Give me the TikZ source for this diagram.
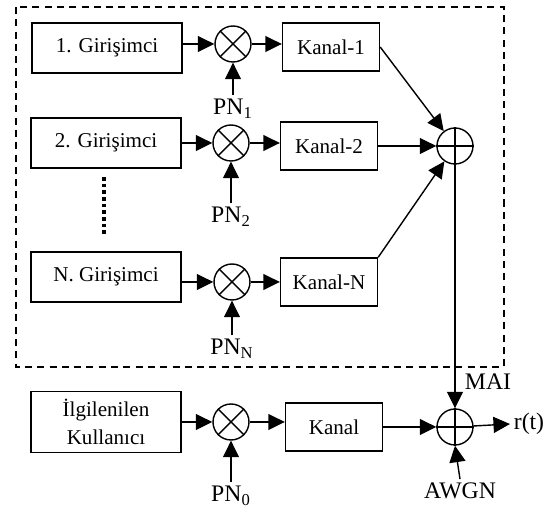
\documentclass[tikz,border=0pt]{standalone}
\usepackage{fontspec}
\setmainfont{Liberation Serif}
\usepackage{tikz}
\usetikzlibrary{arrows.meta}
\tikzstyle{kutu}=[draw,thick,minimum width=3cm,minimum height=1cm,inner sep=1pt]
\tikzstyle{kanal}=[draw,thick,minimum width=1.94cm,minimum height=0.96cm,inner sep=1pt]
\tikzstyle{daire}=[draw,thick,circle,minimum size=0.72cm,inner sep=0pt]
\tikzstyle{etiket}=[font=\fontsize{13.5}{16}\selectfont,inner sep=2pt]
\tikzstyle{ok}=[thick,-{Triangle[length=3.3mm,width=3.2mm]}]
\newcommand{\carpici}[2]{% carpici: daire ve carpi
\node[daire] (#1) at (#2) {};
\draw[thick] (#1.north east) -- (#1.south west) (#1.north west) -- (#1.south east);
}
\newcommand{\toplayici}[2]{% toplayici: daire ve arti
\node[daire] (#1) at (#2) {};
\draw[thick] (#1.north) -- (#1.south) (#1.west) -- (#1.east);
}

\begin{document}
\begin{tikzpicture}[x=0.02cm,y=-0.02cm,every node/.style={font=\fontsize{12}{16}\selectfont}]
\useasboundingbox (0,0) rectangle (556,509);
%
\draw[thick,dash pattern=on 4pt off 3pt] (16,7) rectangle (504,367);
%
\node[kutu] (g1) at (107,48) {1. Girişimci};
\carpici{m1}{233,44}
\node[kanal] (k1) at (331,47) {Kanal-1};
\node[etiket] (pn1) at (233,109) {PN\textsubscript{1}};
\draw[ok] (g1.east |- m1) -- (m1);
\draw[ok] (m1) -- (m1 -| k1.west);
\draw[ok] (pn1.north) -- (m1.south);
%
\node[kutu] (g2) at (106,143) {2. Girişimci};
\carpici{m2}{231,143}
\node[kanal] (k2) at (329,146) {Kanal-2};
\node[etiket] (pn2) at (231,217) {PN\textsubscript{2}};
\draw[ok] (g2.east |- m2) -- (m2);
\draw[ok] (m2) -- (m2 -| k2.west);
\draw[ok] (pn2.north) -- (m2.south);
%
\draw[line width=2pt,dash pattern=on 2pt off 1.8pt] (104,177) -- (104,237);
%
\node[kutu] (gN) at (106,277) {N. Girişimci};
\carpici{mN}{232,282}
\node[kanal] (kN) at (329,282) {Kanal-N};
\node[etiket] (pnN) at (232,349) {PN\textsubscript{N}};
\draw[ok] (gN.east |- mN) -- (mN);
\draw[ok] (mN) -- (mN -| kN.west);
\draw[ok] (pnN.north) -- (mN.south);
%
\toplayici{s1}{455,146}
\draw[ok] (k1.east) -- (s1);
\draw[ok] (k2.east) -- (s1);
\draw[ok] (kN.north east) -- (s1);
%
\node[kutu,minimum height=1.22cm,align=center] (u) at (106,422) {İlgilenilen\\Kullanıcı};
\carpici{m0}{231,422}
\node[kanal] (k0) at (334,427) {Kanal};
\node[etiket] (pn0) at (231,496) {PN\textsubscript{0}};
\draw[ok] (u.east |- m0) -- (m0);
\draw[ok] (m0) -- (m0 -| k0.west);
\draw[ok] (pn0.north) -- (m0.south);
%
\toplayici{s0}{455,427}
\node[etiket] (mai) at (488,382) {MAI};
\node[etiket] (rt) at (529,424) {r(t)};
\node[etiket] (awgn) at (460,491) {AWGN};
\draw[ok] (s1.south) -- (s0.north);
\draw[ok] (k0.east) -- (s0);
\draw[ok] (s0) -- (rt.west);
\draw[ok] (awgn.north) -- (s0.south);
%
\end{tikzpicture}
\end{document}
